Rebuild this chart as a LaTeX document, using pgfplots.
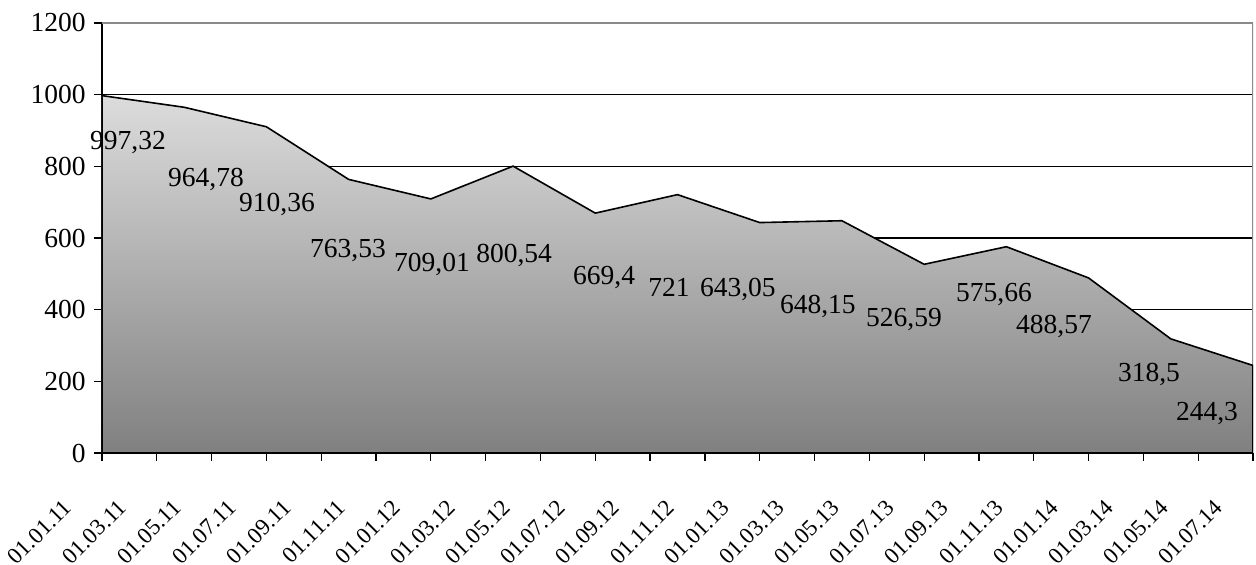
\documentclass[border=0pt]{standalone}
\usepackage{fontspec}
\setmainfont{Liberation Serif}
\usepackage{pgfplots}
\usepackage{pgfplotstable}
\pgfplotsset{compat=1.18}

\definecolor{gradtop}{HTML}{DCDCDC}
\definecolor{gradbot}{HTML}{808080}
\definecolor{frame}{HTML}{8A8A8A}

% month (from 01.01.11), value, label offset, label text
\pgfplotstableread{
m   val     dx     dy     lab
0   997.32  13.0  -26.9   997,32
3   964.78  10.9  -39.5   964,78
6   910.36   5.3  -42.3   910,36
9   763.53  -0.3  -39.0   763,53
12  709.01   0.6  -36.2   709,01
15  800.54   0.5  -48.1   800,54
18  669.4    4.4  -35.6   669,4
21  721     -4.3  -50.9   721
24  643.05 -10.9  -36.9   643,05
27  648.15 -12.0  -46.3   648,15
30  526.59 -10.1  -31.0   526,59
33  575.66  -6.2  -27.3   575,66
36  488.57 -17.3  -27.7   488,57
39  318.5  -10.9  -21.2   318,5
42  244.3  -23.0  -27.4   244,3
}\prices

\begin{document}
\fontsize{13.75}{16}\selectfont
\begin{tikzpicture}
\begin{axis}[
  scale only axis, width=575.5pt, height=215pt,
  xmin=0, xmax=42, ymin=0, ymax=1200,
  axis lines=left,
  axis line style={-, line width=1pt, black},
  xtick={0,2,...,42},
  xticklabels={01.01.11,01.03.11,01.05.11,01.07.11,01.09.11,01.11.11,
    01.01.12,01.03.12,01.05.12,01.07.12,01.09.12,01.11.12,
    01.01.13,01.03.13,01.05.13,01.07.13,01.09.13,01.11.13,
    01.01.14,01.03.14,01.05.14,01.07.14},
  ytick={0,200,...,1200},
  tick align=outside, major tick length=4pt,
  tick style={black, line width=0.6pt},
  ymajorgrids, grid style={black, line width=0.6pt},
  /pgf/number format/assume math mode=true,
  /pgf/number format/1000 sep={},
  yticklabel style={anchor=east, inner sep=0pt, xshift=-4pt},
  xticklabel style={font=\fontsize{11.5}{13}\selectfont, inner sep=0pt,
    xshift=-17pt, yshift=-21.25pt, rotate=45, anchor=east},
]
\draw[frame, line width=1pt] (rel axis cs:0,1) -- (rel axis cs:1,1) -- (rel axis cs:1,0);
\addplot[draw=black, line width=0.8pt, top color=gradtop, bottom color=gradbot]
  table[x=m, y=val] {\prices} \closedcycle;
\addplot[draw=none, mark=none, nodes near coords, point meta=explicit symbolic,
  visualization depends on={\thisrow{dx} \as \dx},
  visualization depends on={\thisrow{dy} \as \dy},
  every node near coord/.append style={anchor=base, inner sep=0pt, text=black,
    xshift=\dx pt, yshift=\dy pt}]
  table[x=m, y=val, meta=lab] {\prices};
\end{axis}
\pgfresetboundingbox
\path[use as bounding box] (-51pt,-56pt) rectangle (577pt,226.5pt);
\end{tikzpicture}
\end{document}
